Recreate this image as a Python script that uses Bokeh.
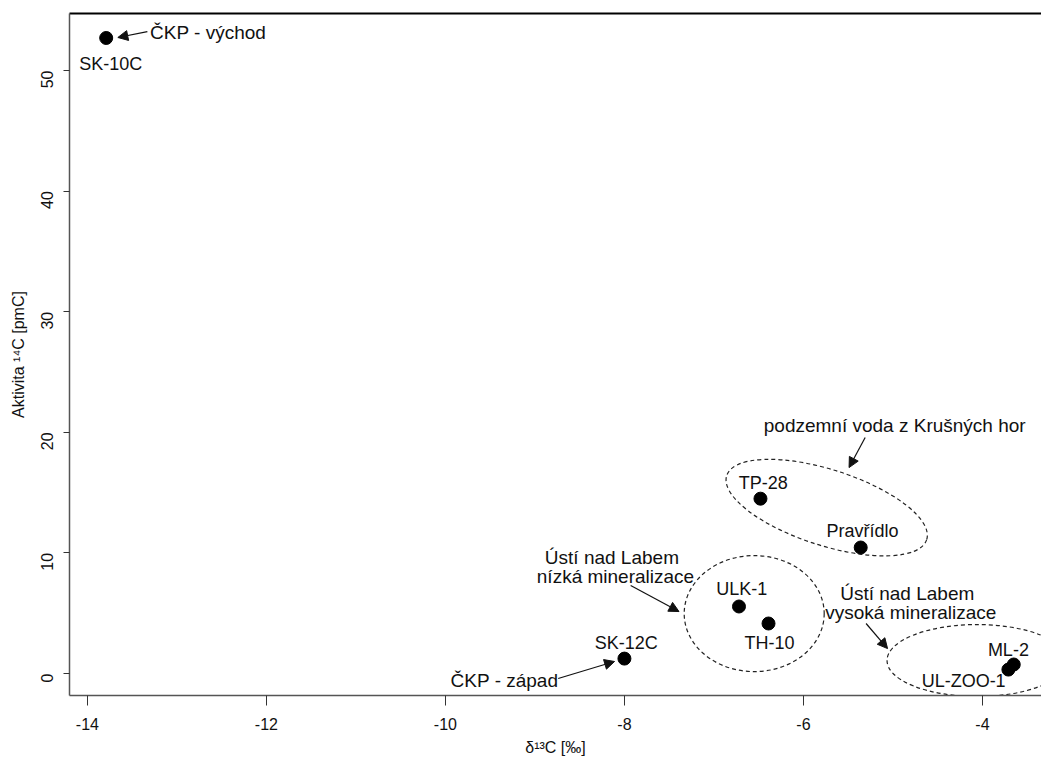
import math
from bokeh.plotting import figure
from bokeh.models import (ColumnDataSource, FixedTicker, LinearAxis, Arrow,
                          NormalHead, Range1d, PrintfTickFormatter)
from bokeh.core.properties import value
from bokeh.embed import file_html
from bokeh.resources import INLINE

# ---- data ----
sample_names = ["SK-10C", "SK-12C", "TP-28", "Pravřídlo", "ULK-1", "TH-10", "ML-2", "UL-ZOO-1"]
d13C = [-13.79, -8.00, -6.48, -5.36, -6.72, -6.39, -3.65, -3.71]
a14C = [52.7, 1.24, 14.5, 10.45, 5.56, 4.15, 0.75, 0.33]

label_x = [-13.74, -7.98, -6.45, -5.34, -6.69, -6.38, -3.71, -4.21]
label_y = [50.58, 2.57, 15.84, 11.86, 6.97, 2.57, 1.99, -0.58]

x_ticks = [-14, -12, -10, -8, -6, -4]
y_ticks = [0, 10, 20, 30, 40, 50]

# group annotations (text)
note_text = ["ČKP - východ", "ČKP - západ", "podzemní voda z Krušných hor",
             "Ústí nad Labem", "nízká mineralizace",
             "Ústí nad Labem", "vysoká mineralizace"]
note_x = [-13.30, -9.34, -4.98, -8.14, -8.10, -4.84, -4.80]
note_y = [53.15, -0.58, 20.56, 9.62, 8.04, 6.63, 5.06]
note_align = ["left", "center", "center", "center", "center", "center", "center"]

# arrows
arrow_x0 = [-13.33, -8.74, -5.31, -7.93, -5.30]
arrow_y0 = [53.23, -0.41, 19.57, 7.30, 4.15]
arrow_x1 = [-13.66, -8.11, -5.49, -7.39, -5.06]
arrow_y1 = [52.74, 1.00, 17.08, 5.14, 2.07]

# group ellipses (centres in data units)
ell_x = [-5.74, -6.55, -4.06]
ell_y = [13.76, 4.97, 1.08]

# ---- figure ----
p = figure(width=1041, height=758, output_backend="svg", toolbar_location=None,
           x_range=Range1d(-14.2, -3.34), y_range=Range1d(-1.82, 54.73),
           min_border_left=69, min_border_top=13, min_border_right=0,
           min_border_bottom=63)
p.outline_line_color = None
p.xgrid.visible = False
p.ygrid.visible = False
p.background_fill_color = "white"

tick_font = "Liberation Sans"

xa = p.xaxis[0]
xa.ticker = FixedTicker(ticks=x_ticks)
xa.formatter = PrintfTickFormatter(format="%d")
xa.axis_line_color = "#555555"
xa.axis_line_width = 1.5
xa.major_tick_out = 10
xa.major_tick_in = 0
xa.minor_tick_line_color = None
xa.major_tick_line_color = "#333333"
xa.major_label_text_font = tick_font
xa.major_label_text_font_size = "16px"
xa.major_label_text_color = "#111111"
xa.major_label_standoff = 12
xa.axis_label = "δ¹³C [‰]"
xa.axis_label_text_font = tick_font
xa.axis_label_text_font_style = "normal"
xa.axis_label_text_font_size = "16px"
xa.axis_label_text_color = "#111111"
xa.axis_label_standoff = 6

ya = p.yaxis[0]
ya.ticker = FixedTicker(ticks=y_ticks)
ya.formatter = PrintfTickFormatter(format="%d")
ya.axis_line_color = "#555555"
ya.axis_line_width = 1.5
ya.major_tick_out = 6
ya.major_tick_in = 0
ya.minor_tick_line_color = None
ya.major_tick_line_color = "#333333"
ya.major_label_text_font = tick_font
ya.major_label_text_font_size = "16px"
ya.major_label_text_color = "#111111"
ya.major_label_orientation = math.pi / 2
ya.major_label_standoff = 16
ya.axis_label = "Aktivita ¹⁴C [pmC]"
ya.axis_label_text_font = tick_font
ya.axis_label_text_font_style = "normal"
ya.axis_label_text_font_size = "16px"
ya.axis_label_text_color = "#111111"
ya.axis_label_standoff = 6

top_axis = LinearAxis(ticker=FixedTicker(ticks=[]), axis_line_color="black",
                      axis_line_width=2, major_tick_out=0, major_tick_in=0,
                      minor_tick_out=0, minor_tick_in=0,
                      major_label_text_font_size="0px")
p.add_layout(top_axis, "above")

# ellipses
ell_src = ColumnDataSource(dict(x=ell_x, y=ell_y, w=[210, 140, 180], h=[76, 116, 72],
                                a=[-0.31, 0.0, 0.0]))
p.ellipse(x="x", y="y", width="w", height="h", angle="a", source=ell_src,
          width_units="screen", height_units="screen",
          fill_color=None, line_color="#222222", line_width=1.2, line_dash="4 3")

# points
pts = ColumnDataSource(dict(x=d13C, y=a14C, name=sample_names, lx=label_x, ly=label_y))
p.scatter(x="x", y="y", source=pts, size=13, color="black")
p.text(x="lx", y="ly", text="name", source=pts, text_align="center",
       text_baseline="middle", text_font=value("Liberation Sans"),
       text_font_size="18px", text_color="#111111")

# notes
notes = ColumnDataSource(dict(x=note_x, y=note_y, t=note_text, al=note_align))
p.text(x="x", y="y", text="t", source=notes, text_align="al",
       text_baseline="middle", text_font=value("Liberation Sans"),
       text_font_size="19px", text_color="#111111")

# arrows
arr = ColumnDataSource(dict(x0=arrow_x0, y0=arrow_y0, x1=arrow_x1, y1=arrow_y1))
p.add_layout(Arrow(x_start="x0", y_start="y0", x_end="x1", y_end="y1", source=arr,
                   line_color="#111111", line_width=1.2,
                   end=NormalHead(size=10, fill_color="#111111", line_color="#111111")))

open("out.html", "w").write(file_html(p, INLINE))
